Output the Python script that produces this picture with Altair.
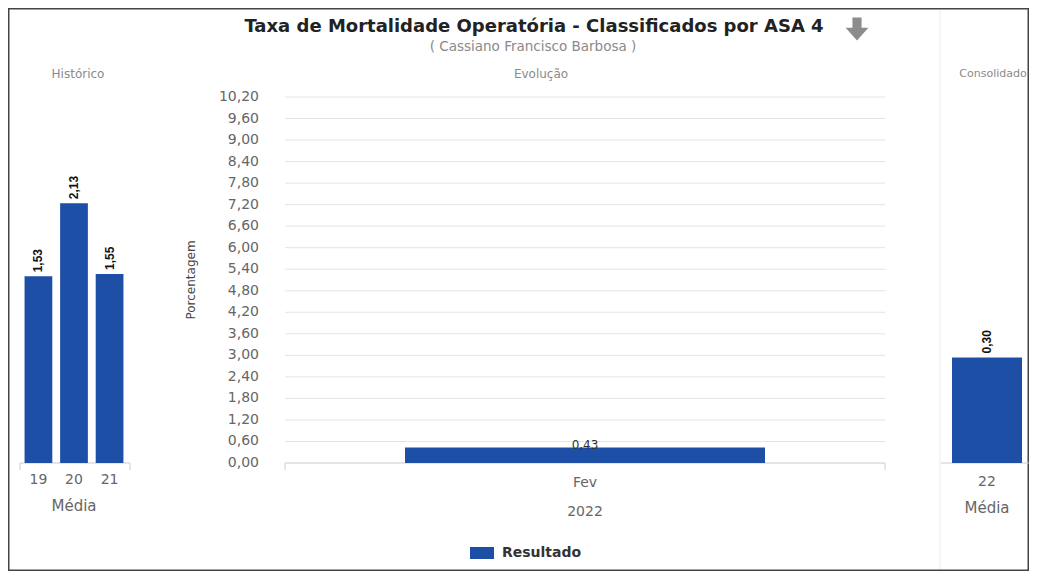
import altair as alt
import pandas as pd

# ---------------- data ----------------
hist_years = ["19", "20", "21"]
hist_values = [1.53, 2.13, 1.55]
evo_months = ["Fev"]
evo_values = [0.43]
evo_year = "2022"
cons_years = ["22"]
cons_values = [0.30]
y_ticks = [0.00, 0.60, 1.20, 1.80, 2.40, 3.00, 3.60, 4.20, 4.80, 5.40,
           6.00, 6.60, 7.20, 7.80, 8.40, 9.00, 9.60, 10.20]
series_name = "Resultado"
title_text = "Taxa de Mortalidade Operatória - Classificados por ASA 4"
subtitle_text = "( Cassiano Francisco Barbosa )"
panel_titles = ["Histórico", "Evolução", "Consolidado"]
avg_label = "Média"
y_title = "Porcentagem"

BLUE = "#1d4fa6"
FONT = "DejaVu Sans"
LBL = "replace(format(datum.v, '.2f'), '.', ',')"
W, H = 1021, 563
BASE = 455
TOP = 89
AXC = "#cccccc"
TXC = "#666666"

hist_df = pd.DataFrame({"cat": hist_years, "v": hist_values})
evo_df = pd.DataFrame({"cat": evo_months, "v": evo_values,
                       "serie": [series_name] * len(evo_months),
                       "year": [evo_year] * len(evo_months)})
cons_df = pd.DataFrame({"cat": cons_years, "v": cons_values,
                        "avg": [avg_label] * len(cons_years)})
ticks_df = pd.DataFrame({"tick": y_ticks})


def one(text):
    return alt.Chart(pd.DataFrame({"t": [text]}))


def label(text, x, y, size, color, weight="normal", font=FONT, angle=0):
    return one(text).mark_text(
        font=font, fontSize=size, fontWeight=weight, color=color, angle=angle,
        align="center", baseline="middle").encode(
        x=alt.value(x), y=alt.value(y), text="t:N")


def hline(x1, x2, y):
    return one("").mark_rule(color=AXC, strokeWidth=1).encode(
        x=alt.value(x1), x2=alt.value(x2), y=alt.value(y))


def vtick(x):
    return one("").mark_rule(color=AXC, strokeWidth=1).encode(
        x=alt.value(x), y=alt.value(BASE), y2=alt.value(BASE + 7))


def xlabels(base, xenc, field, y, size=14):
    return base.mark_text(font=FONT, fontSize=size, color=TXC, baseline="middle").encode(
        x=xenc, y=alt.value(y), text=f"{field}:N")


# ---------------- Histórico ----------------
hx_scale = alt.Scale(range=[13, 119], paddingInner=0.22, paddingOuter=0.1)
hy_scale = alt.Scale(domain=[0, 3.0], range=[BASE, TOP], nice=False, zero=True)
hx = alt.X("cat:N", sort=hist_years, scale=hx_scale, axis=None)
hy = alt.Y("v:Q", scale=hy_scale, axis=None)
hist_base = alt.Chart(hist_df).transform_calculate(lbl=LBL)
hist_bars = hist_base.mark_bar(color=BLUE).encode(x=hx, y=hy)
hist_lbl = hist_base.mark_text(angle=270, align="left", baseline="middle", dx=4,
                               font="Liberation Sans", fontWeight="bold", fontSize=12,
                               color="#111111").encode(x=hx, y=hy, text="lbl:N")
hist_xl = xlabels(hist_base, hx, "cat", BASE + 17)
hist = alt.layer(hist_bars, hist_lbl, hist_xl)

# ---------------- Evolução ----------------
mx_scale = alt.Scale(range=[277, 877], paddingInner=0.4, paddingOuter=0.2)
my_scale = alt.Scale(domain=[0, 10.2], range=[BASE, TOP], nice=False, zero=True)
mx = alt.X("cat:N", sort=evo_months, scale=mx_scale, axis=None)
my = alt.Y("v:Q", scale=my_scale, axis=None)
ticks_base = alt.Chart(ticks_df).transform_calculate(
    tl="replace(format(datum.tick, '.2f'), '.', ',')")
grid = ticks_base.mark_rule(color="#e4e4e4", strokeWidth=1).encode(
    x=alt.value(277), x2=alt.value(877),
    y=alt.Y("tick:Q", scale=my_scale, axis=None),
)
ytl = ticks_base.mark_text(font=FONT, fontSize=14, color=TXC, align="right",
                           baseline="middle").encode(
    x=alt.value(251), y=alt.Y("tick:Q", scale=my_scale, axis=None), text="tl:N")
evo_base = alt.Chart(evo_df).transform_calculate(lbl=LBL)
evo_bar = evo_base.mark_bar().encode(
    x=mx, y=my,
    color=alt.Color("serie:N", scale=alt.Scale(range=[BLUE]),
                    legend=alt.Legend(orient="none", legendX=462, legendY=533, title=None,
                                      symbolType="M-1,-0.5L1,-0.5L1,0.5L-1,0.5Z",
                                      symbolSize=576, symbolStrokeWidth=0,
                                      labelFont=FONT, labelFontSize=14,
                                      labelFontWeight="bold", labelColor="#333333",
                                      labelOffset=8, padding=0)),
)
evo_lbl = evo_base.mark_text(baseline="alphabetic", font=FONT, fontSize=12,
                             color="#333333", dy=1).encode(x=mx, y=my, text="lbl:N")
evo_xl = xlabels(evo_base, mx, "cat", BASE + 20)
evo_yr = xlabels(evo_base, mx, "year", BASE + 49)
evo = alt.layer(grid, ytl, evo_bar, evo_lbl, evo_xl, evo_yr)

# ---------------- Consolidado ----------------
cx_scale = alt.Scale(range=[934, 1024], paddingInner=0.222, paddingOuter=0.111)
cy_scale = alt.Scale(domain=[0, 1.04], range=[BASE, TOP], nice=False, zero=True)
cx = alt.X("cat:N", sort=cons_years, scale=cx_scale, axis=None)
cy = alt.Y("v:Q", scale=cy_scale, axis=None)
cons_base = alt.Chart(cons_df).transform_calculate(lbl=LBL)
cons_bar = cons_base.mark_bar(color=BLUE).encode(x=cx, y=cy)
cons_lbl = cons_base.mark_text(angle=270, align="left", baseline="middle", dx=4,
                               font="Liberation Sans", fontWeight="bold", fontSize=12,
                               color="#111111").encode(x=cx, y=cy, text="lbl:N")
cons_xl = xlabels(cons_base, cx, "cat", BASE + 19)
cons_avg = xlabels(cons_base, cx, "avg", BASE + 45, 15)
cons = alt.layer(cons_bar, cons_lbl, cons_xl, cons_avg)

# ---------------- decorations ----------------
title = label(title_text, 526, 19, 18, "#222222", "bold")
subtitle = label(subtitle_text, 525, 39, 13.5, "#8a8a8a")
h1 = label(panel_titles[0], 70, 66, 12, "#8a8a8a")
h2 = label(panel_titles[1], 533, 66, 12, "#8a8a8a")
h3 = label(panel_titles[2], 985, 66, 11, "#8a8a8a")
hist_avg = label(avg_label, 66, BASE + 43, 15, TXC)
ytitle = label(y_title, 183, 272, 12, "#444444", angle=270)
arrow = one("").mark_point(
    shape="M-0.4,-1L0.4,-1L0.4,-0.1L1,-0.1L0,1L-1,-0.1L-0.4,-0.1Z",
    filled=True, size=520, color="#8c8c8c", opacity=1).encode(
    x=alt.value(849), y=alt.value(21))
sep = one("").mark_rule(color="#ececec", strokeWidth=1).encode(
    x=alt.value(932), y=alt.value(2), y2=alt.value(H - 2))
axes_lines = [hline(12, 122, BASE), vtick(12), vtick(122),
              hline(277, 877, BASE), vtick(277), vtick(877),
              hline(933, 1027, BASE), vtick(1027)]

chart = alt.layer(sep, *axes_lines, hist, evo, cons, title, subtitle, h1, h2, h3,
                  hist_avg, ytitle, arrow).resolve_scale(
    x="independent", y="independent"
).properties(
    width=W, height=H, autosize=alt.AutoSizeParams(type="none"), padding=0,
    background="white"
).configure_view(
    stroke="#444444", strokeWidth=3
)

chart.save("out.html", embed_options={"renderer": "svg", "actions": False})
